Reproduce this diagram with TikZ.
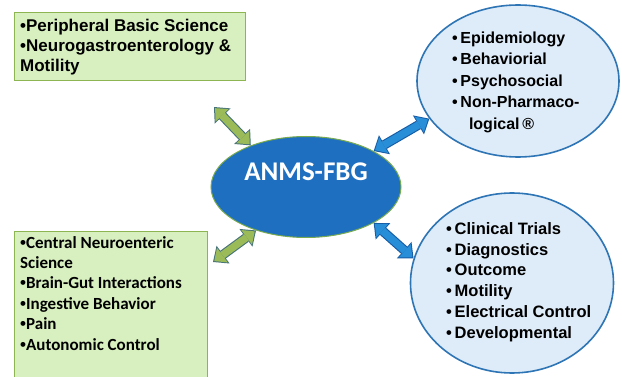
\documentclass[tikz,border=0pt]{standalone}
\usepackage{fontspec}
\setmainfont{Liberation Sans}
\newfontfamily\carlito{Carlito}
\usetikzlibrary{shapes.geometric,arrows.meta}
\definecolor{boxgreen}{RGB}{216,240,192}
\definecolor{boxline}{RGB}{141,181,82}
\definecolor{arrgreen}{RGB}{155,187,89}
\definecolor{greenedge}{RGB}{70,115,120}
\definecolor{hubblue}{RGB}{31,111,192}
\definecolor{hubline}{RGB}{120,170,80}
\definecolor{cloudfill}{RGB}{222,235,248}
\definecolor{cloudline}{RGB}{46,117,182}
\definecolor{arrblue}{RGB}{40,142,215}
\definecolor{blueedge}{RGB}{22,92,165}
\newcommand\dotb{{\rmfamily•}}
\tikzset{
  topicbox/.style={draw=boxline, fill=boxgreen, line width=1.2pt, anchor=north west, inner sep=0pt},
  topictext/.style={anchor=north west, inner sep=0pt, align=left},
  cloud/.style={ellipse, draw=cloudline, fill=cloudfill, line width=1.6pt, inner sep=0pt},
  cloudtext/.style={anchor=west, inner sep=0pt, align=left, font=\bfseries\fontsize{16}{21.5}\selectfont},
  hub/.style={ellipse, draw=hubline, fill=hubblue, line width=1pt, inner sep=0pt, minimum width=190pt, minimum height=101pt},
  linkarrow/.style 2 args={draw=#2, line width=9.5pt,
    {Triangle[length=12.5pt,width=22pt,line width=0pt]}-{Triangle[length=12.5pt,width=22pt,line width=0pt]},
    postaction={draw=#1, line width=7.3pt, shorten <=1.6pt, shorten >=1.6pt,
      {Triangle[length=10pt,width=18pt,line width=0pt]}-{Triangle[length=10pt,width=18pt,line width=0pt]}}}
}
\begin{document}
\begin{tikzpicture}[x=1pt,y=-1pt]
\useasboundingbox (0,0) rectangle (622,377);
\node[topicbox, minimum width=231pt, minimum height=68pt] (periph) at (14,12){};
\node[topictext, font=\bfseries\fontsize{17}{20}\selectfont] (periphtext) at (20,18.5)
  {•Peripheral Basic Science\\•Neurogastroenterology \&\\Motility};
\node[topicbox, minimum width=193pt, minimum height=148pt] (central) at (14,231){};
\node[topictext, font=\carlito\bfseries\fontsize{17}{20.4}\selectfont] (centraltext) at (20,236)
  {\dotb Central Neuroenteric\\Science\\\dotb Brain-Gut Interactions\\\dotb Ingestive Behavior\\\dotb Pain\\\dotb Autonomic Control};
\node[hub] (hub) at (306,187){};
\node[font=\carlito\bfseries\fontsize{27}{30}\selectfont, text=white, inner sep=0pt] (hubtext) at (306,171.5){ANMS-FBG};
\node[cloud, minimum width=202pt, minimum height=152pt] (epi) at (518,81){};
\node[cloudtext] (epitext) at (452,82)
  {•\,Epidemiology\\•\,Behaviorial\\•\,Psychosocial\\•\,Non-Pharmaco-\\\hspace*{1.05em}logical\,®};
\node[cloud, minimum width=203pt, minimum height=180pt] (clin) at (512,283){};
\node[cloudtext, font=\bfseries\fontsize{16.5}{20.7}\selectfont] (clintext) at (446,282)
  {•\,Clinical Trials\\•\,Diagnostics\\•\,Outcome\\•\,Motility\\•\,Electrical Control\\•\,Developmental};
\coordinate (periphend) at (214,107);
\coordinate (centralend) at (213,262);
\draw[linkarrow={arrgreen}{greenedge}](periphend) -- (hub.143);
\draw[linkarrow={arrgreen}{greenedge}](centralend) -- (hub.221);
\draw[linkarrow={arrblue}{blueedge}](hub.28) -- (epi.203);
\draw[linkarrow={arrblue}{blueedge}](hub.332) -- (clin.166);
\end{tikzpicture}
\end{document}
